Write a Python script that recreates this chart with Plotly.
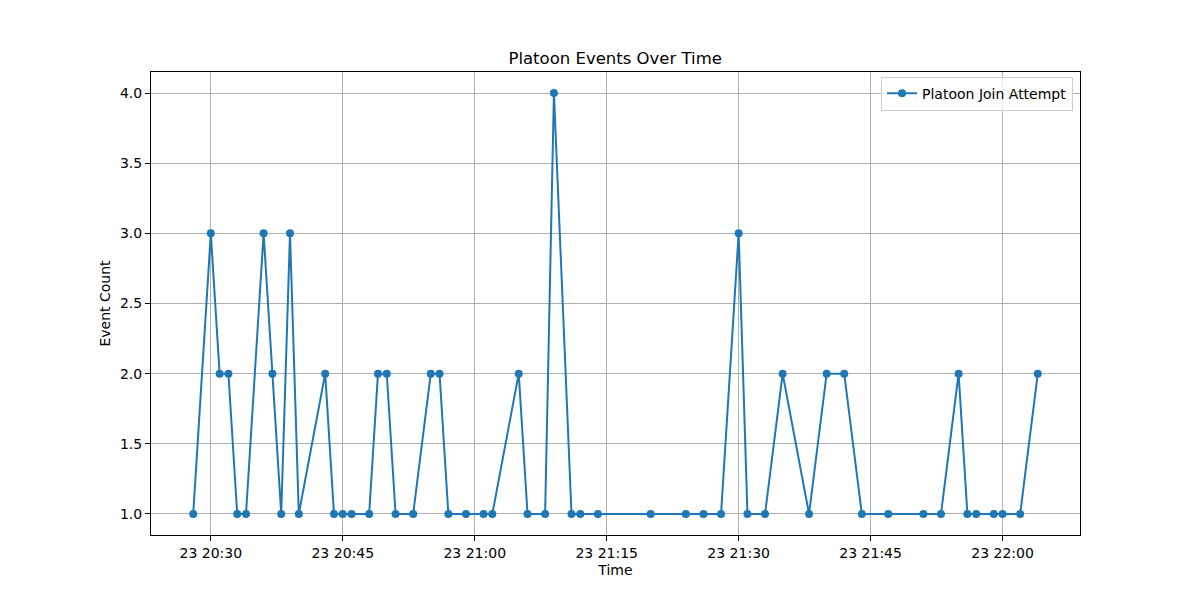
import plotly.graph_objects as go
import pandas as pd

day = '2024-05-23'

times = ['20:28', '20:30', '20:31', '20:32', '20:33', '20:34', '20:36', '20:37',
         '20:38', '20:39', '20:40', '20:43', '20:44', '20:45', '20:46', '20:48',
         '20:49', '20:50', '20:51', '20:53', '20:55', '20:56', '20:57', '20:59',
         '21:01', '21:02', '21:05', '21:06', '21:08', '21:09', '21:11', '21:12',
         '21:14', '21:20', '21:24', '21:26', '21:28', '21:30', '21:31', '21:33',
         '21:35', '21:38', '21:40', '21:42', '21:44', '21:47', '21:51', '21:53',
         '21:55', '21:56', '21:57', '21:59', '22:00', '22:02', '22:04']
counts = [1, 3, 2, 2, 1, 1, 3, 2,
          1, 3, 1, 2, 1, 1, 1, 1,
          2, 2, 1, 1, 2, 2, 1, 1,
          1, 1, 2, 1, 1, 4, 1, 1,
          1, 1, 1, 1, 1, 3, 1, 1,
          2, 1, 2, 2, 1, 1, 1, 1,
          2, 1, 1, 1, 1, 1, 2]

df = pd.DataFrame({'time': pd.to_datetime([day + ' ' + t for t in times]),
                   'count': counts})

# matplotlib-like 5% margins
span = df['time'].max() - df['time'].min()
x_range = [df['time'].min() - span * 0.05, df['time'].max() + span * 0.05]
y_span = max(counts) - min(counts)
y_range = [min(counts) - y_span * 0.05, max(counts) + y_span * 0.05]

font = 'DejaVu Sans, sans-serif'

fig = go.Figure(go.Scatter(
    x=df['time'], y=df['count'],
    mode='lines+markers',
    name='Platoon Join Attempt',
    line=dict(color='#1f77b4', width=2),
    marker=dict(color='#1f77b4', size=8),
))

axis_style = dict(
    showline=True, linecolor='black', linewidth=1, mirror=True,
    ticks='outside', ticklen=5, tickcolor='black', tickwidth=1,
    showgrid=True, gridcolor='#b0b0b0', gridwidth=1,
    zeroline=False,
    tickfont=dict(family=font, size=14, color='black'),
)

fig.update_layout(
    width=1200, height=600,
    margin=dict(l=143, r=128, t=64, b=73),
    paper_bgcolor='white', plot_bgcolor='white',
    font=dict(family=font, color='black'),
    title=dict(text='Platoon Events Over Time', x=0.506, xanchor='center',
               y=0.917, yanchor='middle', font=dict(size=16.5, family=font)),
    xaxis=dict(axis_style, range=x_range, type='date',
               tick0=day + ' 20:30', dtick=15 * 60 * 1000,
               tickformat='%d %H:%M',
               title=dict(text='Time', font=dict(size=14, family=font), standoff=5)),
    yaxis=dict(axis_style, range=y_range, dtick=0.5, tick0=1, tickformat='.1f',
               title=dict(text='Event Count', font=dict(size=14, family=font), standoff=6)),
    legend=dict(x=0.9925, y=0.99, xanchor='right', yanchor='top',
                bgcolor='rgba(255,255,255,0.8)', bordercolor='#cccccc', borderwidth=1,
                font=dict(family=font, size=14)),
    showlegend=True,
)

fig.write_html('out.html')
